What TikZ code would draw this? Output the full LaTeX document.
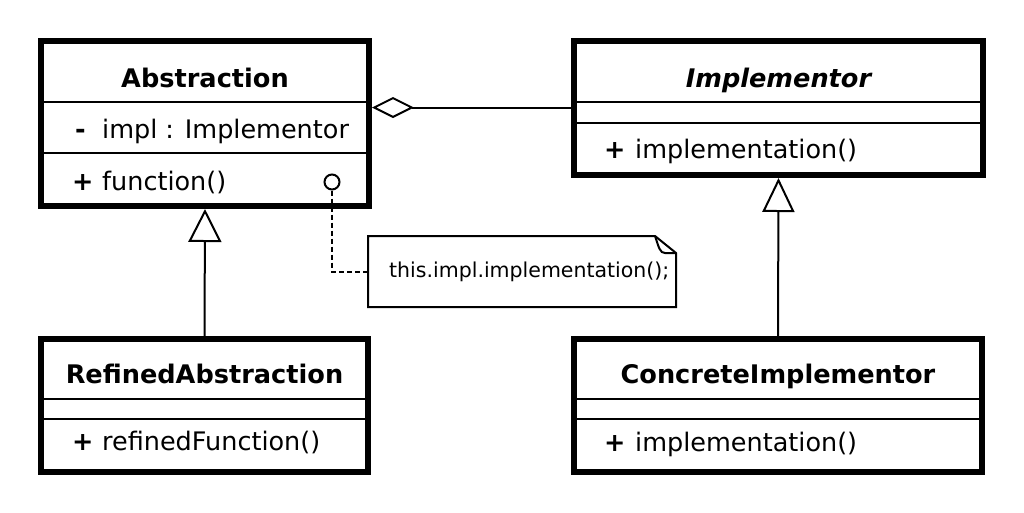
\documentclass[tikz,border=0pt]{standalone}
\usepackage{fontspec}
\setmainfont{DejaVu Sans}
\usetikzlibrary{arrows.meta,calc}
\begin{document}
\begin{tikzpicture}[x=1pt,y=-1pt,
  classbox/.style={draw,line width=6pt,inner sep=0pt,fill=white},
  divider/.style={line width=2pt},
  conn/.style={line width=2pt},
  title/.style={anchor=base,inner sep=0pt,font=\fontsize{25.6}{30}\selectfont\bfseries},
  member/.style={anchor=base west,inner sep=0pt,font=\fontsize{25.5}{30}\selectfont},
  vis/.style={anchor=base west,inner sep=0pt,font=\fontsize{25.5}{30}\selectfont\bfseries},
  notetxt/.style={anchor=base west,inner sep=0pt,font=\fontsize{20.5}{24}\selectfont}]
\useasboundingbox (0,0) rectangle (1024,512);
\fill[white] (0,0) rectangle (1024,512);

% class boxes
\node[classbox,minimum width=328pt,minimum height=165pt] (abs) at (205,123.5) {};
\node[classbox,minimum width=409pt,minimum height=134pt] (impl) at (778.5,108) {};
\node[classbox,minimum width=327pt,minimum height=133pt] (ra) at (204.5,405.5) {};
\node[classbox,minimum width=408pt,minimum height=133pt] (ci) at (778,405.5) {};

% dividers
\draw[divider] (abs.west |- 0,102) -- (abs.east |- 0,102);
\draw[divider] (abs.west |- 0,153) -- (abs.east |- 0,153);
\draw[divider] (impl.west |- 0,102) -- (impl.east |- 0,102);
\draw[divider] (impl.west |- 0,123) -- (impl.east |- 0,123);
\draw[divider] (ra.west |- 0,399) -- (ra.east |- 0,399);
\draw[divider] (ra.west |- 0,419) -- (ra.east |- 0,419);
\draw[divider] (ci.west |- 0,399) -- (ci.east |- 0,399);
\draw[divider] (ci.west |- 0,419) -- (ci.east |- 0,419);

% texts
\node[title] (absT) at (205,87) {Abstraction};
\node[vis] (absV1) at (75,138) {-};
\node[member] (absA) at (102,138) {impl : Implementor};
\node[vis] (absV2) at (72,190) {+};
\node[member] (absM) at (102,190) {function()};

\node[title,font=\fontsize{25.6}{30}\selectfont\bfseries\itshape] (implT) at (778.5,87) {Implementor};
\node[vis] (implV) at (604,158) {+};
\node[member] (implM) at (635,158) {implementation()};

\node[title] (raT) at (204.5,383) {RefinedAbstraction};
\node[vis] (raV) at (72,450) {+};
\node[member] (raM) at (102,450) {refinedFunction()};

\node[title] (ciT) at (778,383) {ConcreteImplementor};
\node[vis] (ciV) at (604,451) {+};
\node[member] (ciM) at (635,451) {implementation()};

% generalizations
\draw[conn,-{Triangle[open,length=33pt,width=33pt]}] (ra.north) -- (abs.south);
\draw[conn,-{Triangle[open,length=34pt,width=32pt]}] (ci.north) -- (impl.south);

% aggregation
\coordinate (da) at ([yshift=-69.5pt]abs.north east);
\draw[conn,{Diamond[open,length=42pt,width=21pt]}-] (da) -- (impl.west |- da);

% note
\node[minimum width=308pt,minimum height=71pt,inner sep=0pt,outer sep=0pt] (note) at (522,271.5) {};
\draw[conn,fill=white] (note.north west) -- ($(note.north east)+(-21,0)$) -- ($(note.north east)+(0,17)$) -- (note.south east) -- (note.south west) -- cycle;
\draw[conn] ($(note.north east)+(-21,0)$) .. controls ($(note.north east)+(-17,12)$) and ($(note.north east)+(-16,17)$) .. ($(note.north east)+(-11,17)$) -- ($(note.north east)+(0,17)$);
\node[notetxt] (noteT) at (389,277) {this.impl.implementation();};
\node[circle,draw,line width=2pt,fill=white,minimum size=15pt,inner sep=0pt] (lol) at (332,182) {};
\draw[conn,dash pattern=on 5pt off 3pt] (lol.south) |- (note.west);
\end{tikzpicture}
\end{document}
